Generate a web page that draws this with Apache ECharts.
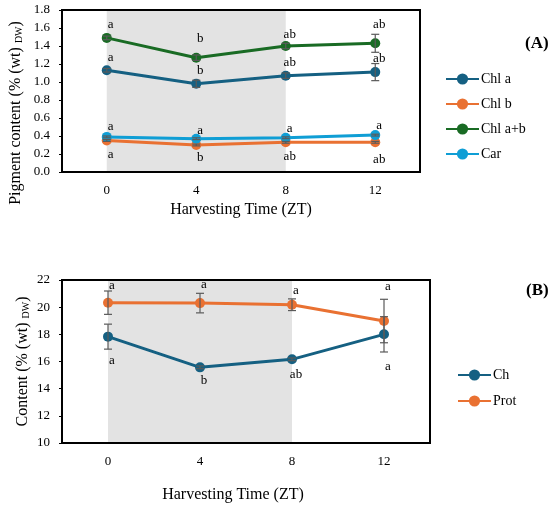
<!DOCTYPE html>
<html>
<head>
<meta charset="utf-8">
<script src="https://cdn.jsdelivr.net/npm/echarts@6/dist/echarts.min.js"></script>
<style>html,body{margin:0;padding:0;background:#fff}#c{width:550px;height:506px}</style>
</head>
<body>
<div id="c"></div>
<script>
// ---------- data ----------
const categories = ['0', '4', '8', '12'];
const yTicksA = [0, 1.8, 0.2];
const yTicksB = [10, 22, 2];

const chlA    = [1.13, 0.98, 1.07, 1.11];
const chlAErr = [0.02, 0.04, 0.03, 0.095];
const chlALet = ['a', 'b', 'ab', 'ab'];

const chlB    = [0.35, 0.30, 0.33, 0.33];
const chlBErr = [0.01, 0.01, 0.01, 0.01];
const chlBLet = ['a', 'b', 'ab', 'ab'];

const chlAB    = [1.49, 1.27, 1.40, 1.43];
const chlABErr = [0.02, 0.03, 0.03, 0.10];
const chlABLet = ['a', 'b', 'ab', 'ab'];

const car    = [0.39, 0.37, 0.38, 0.41];
const carErr = [0.01, 0.01, 0.01, 0.01];
const carLet = ['a', 'a', 'a', 'a'];

const ch    = [17.83, 15.57, 16.16, 18.0];
const chErr = [0.92, 0.10, 0.10, 1.30];
const chLet = ['a', 'b', 'ab', 'a'];

const prot    = [20.33, 20.30, 20.18, 18.98];
const protErr = [0.86, 0.72, 0.43, 1.60];
const protLet = ['a', 'a', 'a', 'a'];

// ---------- layout / style ----------
const FONT = 'Liberation Serif';
const C_BLUE = '#156082', C_ORANGE = '#E97132', C_GREEN = '#196B24', C_LBLUE = '#0F9ED5';
// label vertical offsets (px, from point centre) — layout only
const liftChlA = [13, 13, 13, 14];
const liftChlB = [-14, -13, -14, -17];
const liftChlAB = [13, 19, 11, 19];
const liftCar = [10, 8, 9, 10];
const liftCh = [-24, -13, -15, -32];
const liftProt = [17, 19, 14, 34];

function lineSeries(name, vals, letters, lift, color, gi) {
  return {
    name: name, type: 'line', xAxisIndex: gi, yAxisIndex: gi,
    symbol: 'circle', symbolSize: 10,
    lineStyle: { color: color, width: 3 },
    itemStyle: { color: color },
    z: 3,
    data: vals.map((v, i) => ({
      value: v,
      label: { offset: [4, -lift[i]] }
    })),
    label: {
      show: true, position: 'inside', color: '#000',
      fontFamily: FONT, fontSize: 13,
      formatter: p => letters[p.dataIndex]
    }
  };
}
function errSeries(name, vals, errs, gi) {
  return {
    name: name, type: 'custom', xAxisIndex: gi, yAxisIndex: gi, z: 4,
    silent: true,
    data: vals.map((v, i) => [i, v, errs[i]]),
    encode: { x: 0, y: 1 },
    renderItem: function (params, api) {
      const x = api.value(0), v = api.value(1), e = api.value(2);
      const t = api.coord([x, v + e]);
      const b = api.coord([x, v - e]);
      const hw = 4;
      const st = { stroke: '#5a5a5a', lineWidth: 1.2 };
      return {
        type: 'group', children: [
          { type: 'line', shape: { x1: t[0], y1: t[1], x2: b[0], y2: b[1] }, style: st },
          { type: 'line', shape: { x1: t[0] - hw, y1: t[1], x2: t[0] + hw, y2: t[1] }, style: st },
          { type: 'line', shape: { x1: b[0] - hw, y1: b[1], x2: b[0] + hw, y2: b[1] }, style: st }
        ]
      };
    }
  };
}
function shade(gi) {
  return {
    name: 'shade' + gi, type: 'line', xAxisIndex: gi, yAxisIndex: gi, data: [], z: 1,
    markArea: {
      silent: true, itemStyle: { color: '#e3e3e3' },
      data: [[{ xAxis: '0' }, { xAxis: '8' }]]
    }
  };
}
function xAxis(gi, gap, pad) {
  return {
    type: 'category', gridIndex: gi, data: categories, boundaryGap: true, z: 5,
    axisLine: { lineStyle: { color: '#000', width: 2 } },
    axisTick: { show: false },
    axisLabel: { color: '#000', fontFamily: FONT, fontSize: 13, margin: 12 },
    name: 'Harvesting Time (ZT)', nameLocation: 'middle', nameGap: gap, nameMoveOverlap: false,
    nameTextStyle: { color: '#000', fontFamily: FONT, fontSize: 16, padding: pad }
  };
}
function yAxis(gi, t, title, gap, pad) {
  return {
    type: 'value', gridIndex: gi, min: t[0], max: t[1], interval: t[2], z: 5,
    axisLine: { show: true, lineStyle: { color: '#000', width: 2 } },
    axisTick: { show: true, length: 3, lineStyle: { color: '#000' } },
    splitLine: { show: false },
    axisLabel: {
      color: '#000', fontFamily: FONT, fontSize: 13, margin: 12,
      formatter: v => (t[2] < 1 ? v.toFixed(1) : String(v))
    },
    name: title, nameLocation: 'middle', nameGap: gap, nameMoveOverlap: false,
    nameTextStyle: {
      color: '#000', fontFamily: FONT, fontSize: 16, padding: pad,
      rich: { sub: { fontFamily: FONT, fontSize: 10, verticalAlign: 'bottom', padding: [6, 0, 0, 0] } }
    }
  };
}

const chart = echarts.init(document.getElementById('c'), null, { renderer: 'canvas' });
chart.setOption({
  backgroundColor: '#fff',
  animation: false,
  title: [
    { text: '(A)', left: 520, top: 30, textStyle: { fontFamily: FONT, fontSize: 17, fontWeight: 'bold', color: '#000' } },
    { text: '(B)', left: 521, top: 277, textStyle: { fontFamily: FONT, fontSize: 17, fontWeight: 'bold', color: '#000' } }
  ],
  grid: [
    { left: 62, top: 10, width: 358, height: 162, show: true, borderColor: '#000', borderWidth: 2, z: 5, backgroundColor: 'transparent' },
    { left: 62, top: 280, width: 368, height: 163, show: true, borderColor: '#000', borderWidth: 2, z: 5, backgroundColor: 'transparent' }
  ],
  legend: [
    {
      data: ['Chl a', 'Chl b', 'Chl a+b', 'Car'], orient: 'vertical', left: 440, top: 67,
      itemWidth: 33, itemHeight: 14, itemGap: 11,
      textStyle: { fontFamily: FONT, fontSize: 14, color: '#000', padding: [0, 0, 0, -3] }
    },
    {
      data: ['Ch', 'Prot'], orient: 'vertical', left: 452, top: 363,
      itemWidth: 33, itemHeight: 14, itemGap: 12,
      textStyle: { fontFamily: FONT, fontSize: 14, color: '#000', padding: [0, 0, 0, -3] }
    }
  ],
  xAxis: [xAxis(0, 30, [0, 0, 0, 0]), xAxis(1, 44, [0, 26, 0, 0])],
  yAxis: [
    yAxis(0, yTicksA, 'Pigment content (% (wt) {sub|DW})', 38, [0, 44, 0, 0]),
    yAxis(1, yTicksB, 'Content (% (wt) {sub|DW})', 31, [0, 0, 0, 0])
  ],
  series: [
    shade(0), shade(1),
    lineSeries('Chl a', chlA, chlALet, liftChlA, C_BLUE, 0),
    lineSeries('Chl b', chlB, chlBLet, liftChlB, C_ORANGE, 0),
    lineSeries('Chl a+b', chlAB, chlABLet, liftChlAB, C_GREEN, 0),
    lineSeries('Car', car, carLet, liftCar, C_LBLUE, 0),
    errSeries('e1', chlA, chlAErr, 0),
    errSeries('e2', chlB, chlBErr, 0),
    errSeries('e3', chlAB, chlABErr, 0),
    errSeries('e4', car, carErr, 0),
    lineSeries('Ch', ch, chLet, liftCh, C_BLUE, 1),
    lineSeries('Prot', prot, protLet, liftProt, C_ORANGE, 1),
    errSeries('e5', ch, chErr, 1),
    errSeries('e6', prot, protErr, 1)
  ]
});
</script>
</body>
</html>
